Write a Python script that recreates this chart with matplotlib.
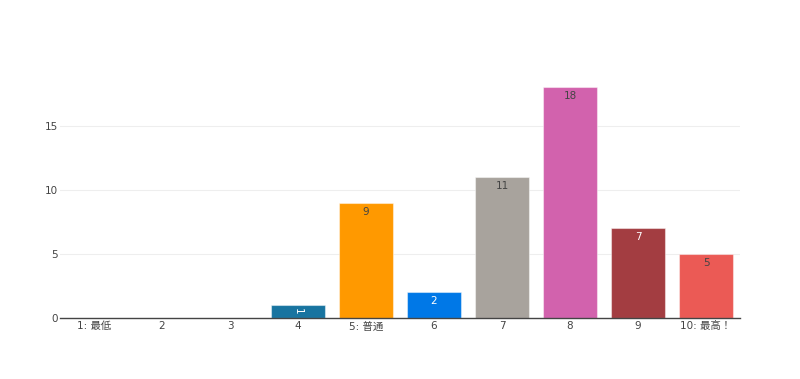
import matplotlib
matplotlib.use("Agg")
import matplotlib.pyplot as plt

categories = ["1: 最低", "2", "3", "4", "5: 普通", "6", "7", "8", "9", "10: 最高！"]
values = [0, 0, 0, 1, 9, 2, 11, 18, 7, 5]
colors = ["#1874A0", "#1874A0", "#1874A0", "#1874A0", "#FF9900", "#0078E7",
          "#A8A39D", "#D262AD", "#A33D41", "#EB5A55"]
label_colors = ["white", "white", "white", "white", "#444444", "white",
                "#444444", "#444444", "white", "#444444"]

plt.rcParams['font.family'] = ['DejaVu Sans', 'Noto Sans CJK JP']

fig = plt.figure(figsize=(8, 3.79), dpi=100)
ax = fig.add_axes([60/800, (379-318)/379, 680/800, (318-75)/379])

x = list(range(len(categories)))
bars = ax.bar(x, values, width=0.8, color=colors,
              edgecolor=(1, 1, 1, 0.45), linewidth=0.8, zorder=3)

ax.set_xlim(-0.5, len(categories) - 0.5)
ax.set_ylim(0, 18.95)
ax.set_yticks([0, 5, 10, 15])
ax.set_xticks(x)
ax.set_xticklabels(categories)
ax.tick_params(axis='both', length=0, labelsize=7.5, colors='#444444')
ax.tick_params(axis='y', pad=1.5)
ax.tick_params(axis='x', pad=2.5)

ax.grid(axis='y', color='#eeeeee', linewidth=0.8, zorder=0)
ax.set_axisbelow(True)
for s in ['top', 'right', 'left']:
    ax.spines[s].set_visible(False)
ax.spines['bottom'].set_color('#444444')
ax.spines['bottom'].set_linewidth(1)
ax.spines['bottom'].set_zorder(4)

for xi, v, lc in zip(x, values, label_colors):
    if v <= 0:
        continue
    if v < 1.5:
        ax.annotate(str(v), (xi, v / 2), ha='center', va='center',
                    rotation=-90, fontsize=7.5, color=lc, zorder=5)
    else:
        ax.annotate(str(v), (xi, v), xytext=(0, -9), textcoords='offset pixels',
                    ha='center', va='center', fontsize=7.5, color=lc, zorder=5)

fig.savefig("out.png", dpi=100, facecolor='white')
